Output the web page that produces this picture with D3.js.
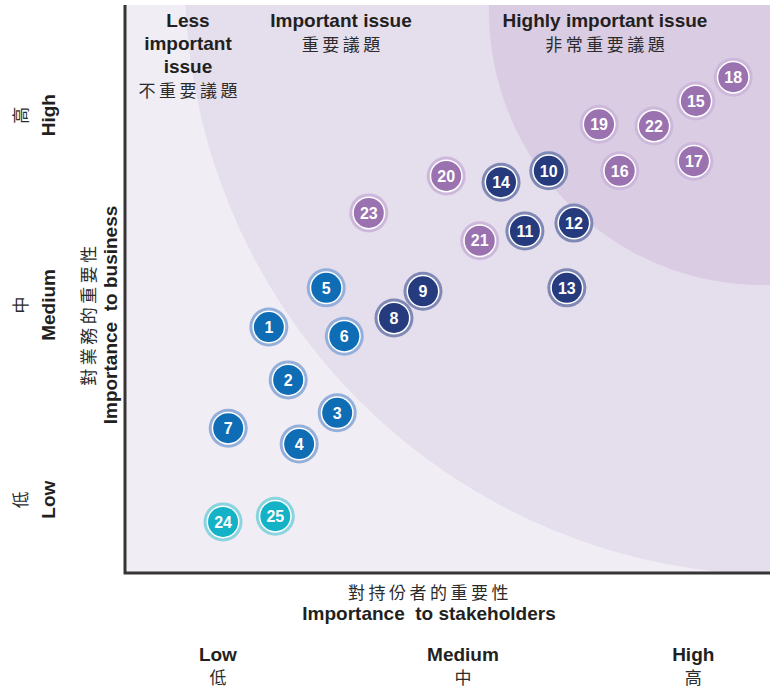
<!DOCTYPE html>
<html>
<head>
<meta charset="utf-8">
<script src="https://cdn.jsdelivr.net/npm/d3@7"></script>
<style>
  html, body { margin: 0; padding: 0; background: #ffffff; }
  svg { display: block; }
  .en { font-family: "Liberation Sans", Arial, sans-serif; font-weight: bold; fill: #231f20; }
  .zh { font-family: "Noto Sans CJK TC", "Noto Sans CJK SC", sans-serif; font-weight: 400; fill: #2b2b2b; }
</style>
</head>
<body>
<svg id="chart" width="770" height="688"></svg>
<script>
// Materiality matrix: issue numbers placed by importance to stakeholders (x) and to business (y)
const issueIds = [1, 2, 3, 4, 5, 6, 7, 8, 9, 10, 11, 12, 13, 14, 15, 16, 17, 18, 19, 20, 21, 22, 23, 24, 25];
const stakeholderScores = [22.3, 25.3, 32.9, 27.0, 31.2, 34.0, 16.0, 41.7, 46.2, 65.7, 62.0, 69.6, 68.5, 58.3, 88.5, 76.7, 88.2, 94.3, 73.5, 49.8, 55.0, 82.0, 37.8, 15.2, 23.3];
const businessScores = [43.3, 34.0, 28.2, 22.7, 50.2, 41.7, 25.5, 44.9, 49.6, 70.8, 60.2, 61.6, 50.2, 68.8, 83.1, 70.8, 72.5, 87.3, 79.0, 69.9, 58.5, 78.7, 63.4, 9.0, 10.0];
const issueGroups = ["blue", "blue", "blue", "blue", "blue", "blue", "blue",
  "navy", "navy", "navy", "navy", "navy", "navy", "navy",
  "purple", "purple", "purple", "purple", "purple", "purple", "purple", "purple", "purple",
  "cyan", "cyan"];

// Level labels along each axis
const levelValuesX = [14.4, 52.4, 88.1];
const levelValuesY = [12.9, 47.2, 80.6];
const levelLabelsEn = ["Low", "Medium", "High"];
const levelLabelsZh = ["低", "中", "高"];

// Zone captions
const zoneCaptionsEn = [["Less", "important", "issue"], ["Important issue"], ["Highly important issue"]];
const zoneCaptionsZh = ["不重要議題", "重要議題", "非常重要議題"];

const groupFill = { blue: "#0f6db6", navy: "#263b7e", purple: "#9a72b0", cyan: "#14b2c7" };
const groupHalo = { blue: "#94b0da", navy: "#8089b6", purple: "#cdb8dc", cyan: "#8ad4df" };

const svg = d3.select("#chart");
const plot = { left: 125, right: 770, top: 5, bottom: 573 };

const x = d3.scaleLinear().domain([0, 100]).range([plot.left, plot.right]);
const y = d3.scaleLinear().domain([0, 100]).range([plot.bottom, plot.top]);

const EN = 19, ZH = 17, ZH_SP = 3.5;

// Plot background and importance zones
svg.append("defs").append("clipPath").attr("id", "plotClip")
  .append("rect").attr("x", plot.left).attr("y", plot.top)
  .attr("width", plot.right - plot.left).attr("height", plot.bottom - plot.top);

const zones = svg.append("g").attr("clip-path", "url(#plotClip)");
zones.append("rect").attr("x", plot.left).attr("y", plot.top)
  .attr("width", plot.right - plot.left).attr("height", plot.bottom - plot.top)
  .attr("fill", "#f0edf5");
zones.append("circle").attr("cx", 780).attr("cy", -20).attr("r", 595).attr("fill", "#e5deec");
zones.append("circle").attr("cx", 763).attr("cy", 11).attr("r", 274).attr("fill", "#d9cce3");

// Axis lines
svg.append("path")
  .attr("d", `M${plot.left},${plot.top} L${plot.left},${plot.bottom} L${plot.right},${plot.bottom}`)
  .attr("fill", "none").attr("stroke", "#353535").attr("stroke-width", 3);

// Zone captions
const capX = [188, 341, 605];
zoneCaptionsEn.forEach((lines, i) => {
  lines.forEach((ln, j) => {
    svg.append("text").attr("class", "en").attr("x", capX[i]).attr("y", 27 + j * 23)
      .attr("text-anchor", "middle").attr("font-size", EN).text(ln);
  });
  svg.append("text").attr("class", "zh").attr("x", capX[i] + ZH_SP / 2).attr("y", 28 + lines.length * 23)
    .attr("text-anchor", "middle").attr("font-size", ZH).attr("letter-spacing", ZH_SP).text(zoneCaptionsZh[i]);
});

// X axis level labels and title
levelValuesX.forEach((v, i) => {
  svg.append("text").attr("class", "en").attr("x", x(v)).attr("y", 661)
    .attr("text-anchor", "middle").attr("font-size", EN).text(levelLabelsEn[i]);
  svg.append("text").attr("class", "zh").attr("x", x(v)).attr("y", 684)
    .attr("text-anchor", "middle").attr("font-size", ZH).text(levelLabelsZh[i]);
});
svg.append("text").attr("class", "zh").attr("x", 430).attr("y", 599)
  .attr("text-anchor", "middle").attr("font-size", ZH).attr("letter-spacing", ZH_SP).text("對持份者的重要性");
svg.append("text").attr("class", "en").attr("x", 429).attr("y", 620)
  .attr("text-anchor", "middle").attr("font-size", EN).attr("xml:space", "preserve").text("Importance  to stakeholders");

// Y axis level labels and title (rotated)
levelValuesY.forEach((v, i) => {
  svg.append("text").attr("class", "zh")
    .attr("transform", `translate(27,${y(v)}) rotate(-90)`)
    .attr("text-anchor", "middle").attr("font-size", ZH).text(levelLabelsZh[i]);
  svg.append("text").attr("class", "en")
    .attr("transform", `translate(55,${y(v)}) rotate(-90)`)
    .attr("text-anchor", "middle").attr("font-size", EN).text(levelLabelsEn[i]);
});
svg.append("text").attr("class", "zh")
  .attr("transform", "translate(95,314) rotate(-90)")
  .attr("text-anchor", "middle").attr("font-size", ZH).attr("letter-spacing", ZH_SP).text("對業務的重要性");
svg.append("text").attr("class", "en")
  .attr("transform", "translate(117,315) rotate(-90)")
  .attr("text-anchor", "middle").attr("font-size", EN).attr("xml:space", "preserve").text("Importance  to business");

// Issue markers
const issues = issueIds.map((id, i) => ({
  id, sx: stakeholderScores[i], by: businessScores[i], group: issueGroups[i]
}));

const marks = svg.append("g").selectAll("g").data(issues).join("g")
  .attr("transform", d => `translate(${x(d.sx)},${y(d.by)})`);
marks.append("circle").attr("r", 19.5).attr("fill", d => groupHalo[d.group]);
marks.append("circle").attr("r", 16.5).attr("fill", "#ffffff");
marks.append("circle").attr("r", 15).attr("fill", d => groupFill[d.group]);
marks.append("text").attr("class", "en").attr("text-anchor", "middle").attr("dy", "0.36em")
  .attr("font-size", 16).style("fill", "#ffffff").text(d => d.id);
</script>
</body>
</html>
